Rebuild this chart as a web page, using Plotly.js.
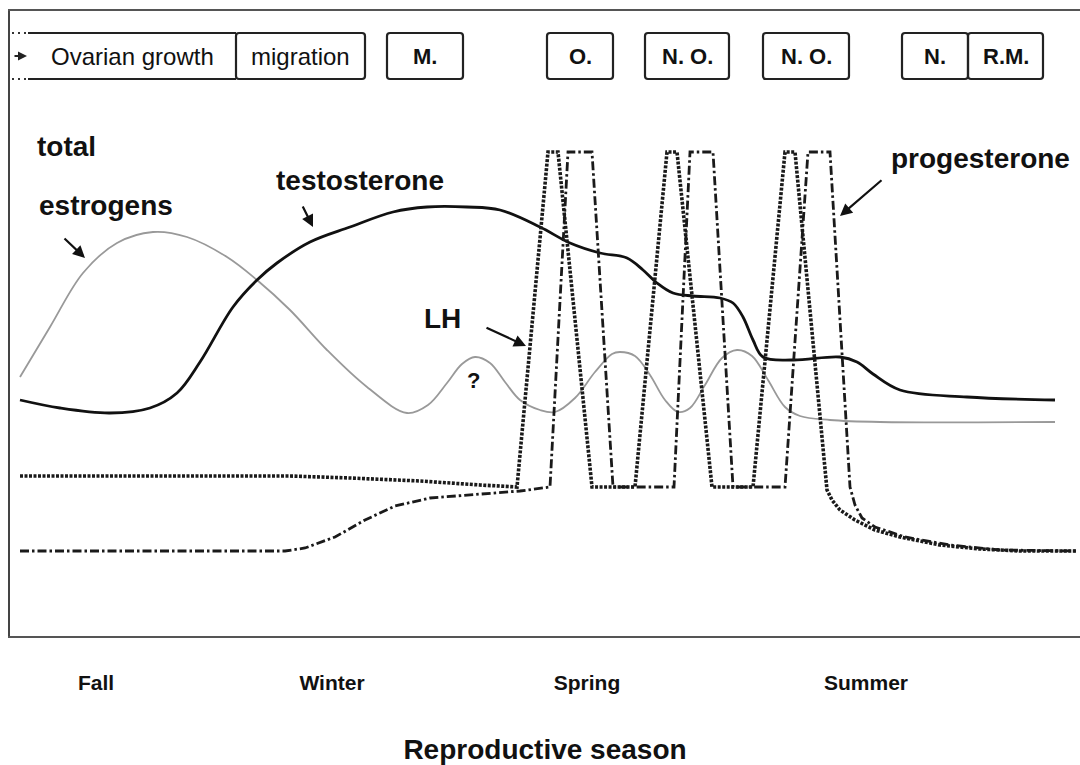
<!DOCTYPE html>
<html>
<head>
<meta charset="utf-8">
<script src="https://cdn.plot.ly/plotly-3.0.1.min.js"></script>
<style>html,body{margin:0;padding:0;background:#fff;}#chart{width:1080px;height:765px;}</style>
</head>
<body>
<div id="chart"></div>
<script>
// ---- Data (schematic, arbitrary units) ----
// time axis position (schematic) and relative hormone levels
const estrogenT = [20,50,83,117,153,187,227,257,290,327,367,407,428,447,462,475,490,505,520,540,555,575,595,612,620,635,650,665,678,690,705,722,737,752,768,785,800,830,880,1055];
const estrogenV = [259,309,363,393,404,399,379,356,326,286,249,223,231,253,272,279,273,254,236,226,224,238,264,282,284,280,261,236,224,228,251,278,286,280,256,229,220,216,214,214];

const testosteroneT = [20,60,110,150,177,200,233,257,277,310,350,393,427,467,500,540,570,600,627,643,657,673,693,720,733,743,753,763,793,840,857,873,900,967,1055];
const testosteroneV = [236,228,223,228,243,274,329,356,373,394,409,424,429,429,426,409,393,383,378,366,353,343,340,338,333,319,296,279,276,279,274,262,246,239,236];

const lhT = [20,290,350,420,480,517,548,558,592,635,667,677,712,753,785,795,827,832,840,855,875,900,940,980,1020,1077];
const lhV = [160,160,158,155,151,149,484,484,149,149,484,484,149,149,484,484,146,136,126,116,106,99,91,87,85,85];

const progT = [20,285,305,335,365,395,430,480,520,550,568,592,613,674,690,713,733,785,808,830,850,855,862,875,905,950,1000,1077];
const progV = [85,85,88,99,116,130,138,142,145,149,484,484,149,149,484,484,149,149,484,484,149,131,118,109,99,91,86,85];

// reproductive phases (top boxes)
const phaseLabels = ["Ovarian growth","migration","M.","O.","N. O.","N. O.","N.","R.M."];
const phaseStart  = [28,236,387,547,645,763,902,968];
const phaseEnd    = [236,365,463,613,729,849,968,1043];
const phaseBold   = [false,false,true,true,true,true,true,true];

// seasons (x tick labels)
const seasons   = ["Fall","Winter","Spring","Summer"];
const seasonPos = [96,332,587,866];

// curve labels
const curveLabels = ["total","estrogens","testosterone","progesterone","LH","?"];
const labelX = [66,106,360,980,442,473];
const labelY = [490,431,456,478,318,256];
const labelSize = [28,28,28,28,28,22];

// arrows: head (x,y) and tail (x,y)
const arrowHeadX = [85,313,526,840];
const arrowHeadY = [378,409,290,420];
const arrowTailX = [63,302,485,883];
const arrowTailY = [399,431,309,457];

// ---- Traces ----
const FONT = "Liberation Sans, Arial, Helvetica, sans-serif";
const traces = [
  {x: estrogenT, y: estrogenV, type:'scatter', mode:'lines', name:'total estrogens',
   line:{color:'#999999', width:1.8, shape:'spline', smoothing:1}},
  {x: testosteroneT, y: testosteroneV, type:'scatter', mode:'lines', name:'testosterone',
   line:{color:'#111111', width:2.8, shape:'spline', smoothing:1}},
  {x: lhT, y: lhV, type:'scatter', mode:'lines', name:'LH',
   line:{color:'#1a1a1a', width:3.6, dash:'3px,1.5px'}},
  {x: progT, y: progV, type:'scatter', mode:'lines', name:'progesterone',
   line:{color:'#1a1a1a', width:2.8, dash:'9px,3px,2.5px,3px'}}
];

// ---- Shapes: phase boxes ----
const boxTop = 603, boxBot = 557;
const shapes = [];
function roundRect(x0, x1, y0, y1) {
  const rx = 3, ry = 3;
  return `M ${x0+rx},${y1} L ${x1-rx},${y1} Q ${x1},${y1} ${x1},${y1-ry} L ${x1},${y0+ry} Q ${x1},${y0} ${x1-rx},${y0} L ${x0+rx},${y0} Q ${x0},${y0} ${x0},${y0+ry} L ${x0},${y1-ry} Q ${x0},${y1} ${x0+rx},${y1} Z`;
}
for (let i = 0; i < phaseLabels.length; i++) {
  if (i === 0) {
    shapes.push({type:'path', xref:'x', yref:'y',
      path:`M ${phaseStart[i]},${boxTop} L ${phaseEnd[i]},${boxTop} M ${phaseStart[i]},${boxBot} L ${phaseEnd[i]},${boxBot}`,
      line:{color:'#222', width:2.2}});
    shapes.push({type:'line', xref:'x', yref:'y', x0:12, x1:phaseStart[i], y0:boxTop, y1:boxTop,
      line:{color:'#333', width:2, dash:'2px,4px'}});
    shapes.push({type:'line', xref:'x', yref:'y', x0:12, x1:phaseStart[i], y0:boxBot, y1:boxBot,
      line:{color:'#333', width:2, dash:'2px,4px'}});
  } else {
    shapes.push({type:'path', xref:'x', yref:'y',
      path: roundRect(phaseStart[i], phaseEnd[i], boxBot, boxTop),
      line:{color:'#222', width:2.2}});
  }
}

// ---- Annotations ----
const annotations = [];
for (let i = 0; i < phaseLabels.length; i++) {
  annotations.push({x:(phaseStart[i]+phaseEnd[i])/2, y:(boxTop+boxBot)/2, xref:'x', yref:'y',
    text: phaseBold[i] ? '<b>'+phaseLabels[i]+'</b>' : phaseLabels[i], showarrow:false,
    font:{family:FONT, size: phaseBold[i] ? 22 : 24, color:'#111', weight: phaseBold[i] ? 'bold' : 500},
    xanchor:'center', yanchor:'middle'});
}
annotations.push({x:27, y:(boxTop+boxBot)/2, ax:13, ay:(boxTop+boxBot)/2, xref:'x', yref:'y', axref:'x', ayref:'y',
  text:'', showarrow:true, arrowhead:2, arrowsize:1, arrowwidth:1.8, arrowcolor:'#222', standoff:0});

for (let i = 0; i < curveLabels.length; i++) {
  annotations.push({x:labelX[i], y:labelY[i], xref:'x', yref:'y', text:'<b>'+curveLabels[i]+'</b>',
    showarrow:false, font:{family:FONT, size:labelSize[i], color:'#111'}, xanchor:'center', yanchor:'middle'});
}
for (let i = 0; i < arrowHeadX.length; i++) {
  annotations.push({x:arrowHeadX[i], y:arrowHeadY[i], ax:arrowTailX[i], ay:arrowTailY[i],
    xref:'x', yref:'y', axref:'x', ayref:'y', text:'', showarrow:true,
    arrowhead:2, arrowsize:1.1, arrowwidth:2.2, arrowcolor:'#111', standoff:0});
}

const layout = {
  width:1080, height:765,
  margin:{l:10, r:0, t:11, b:129},
  paper_bgcolor:'#ffffff', plot_bgcolor:'#ffffff',
  showlegend:false,
  xaxis:{range:[10,1080], showgrid:false, zeroline:false, showline:true, mirror:true,
    linecolor:'#555', linewidth:2, ticks:'', tickvals:seasonPos,
    ticktext:seasons.map(s => '<b>'+s+'</b>'),
    tickfont:{family:FONT, size:21, color:'#111'}, ticklabelstandoff:27,
    title:{text:'<b>Reproductive season</b>', font:{family:FONT, size:28, color:'#111'}, standoff:46},
    fixedrange:true},
  yaxis:{range:[0,625], showgrid:false, zeroline:false, showline:true, linecolor:'#444',
    linewidth:2.2, ticks:'', showticklabels:false, fixedrange:true},
  shapes: shapes,
  annotations: annotations
};

Plotly.newPlot('chart', traces, layout, {staticPlot:true, displayModeBar:false});
</script>
</body>
</html>
